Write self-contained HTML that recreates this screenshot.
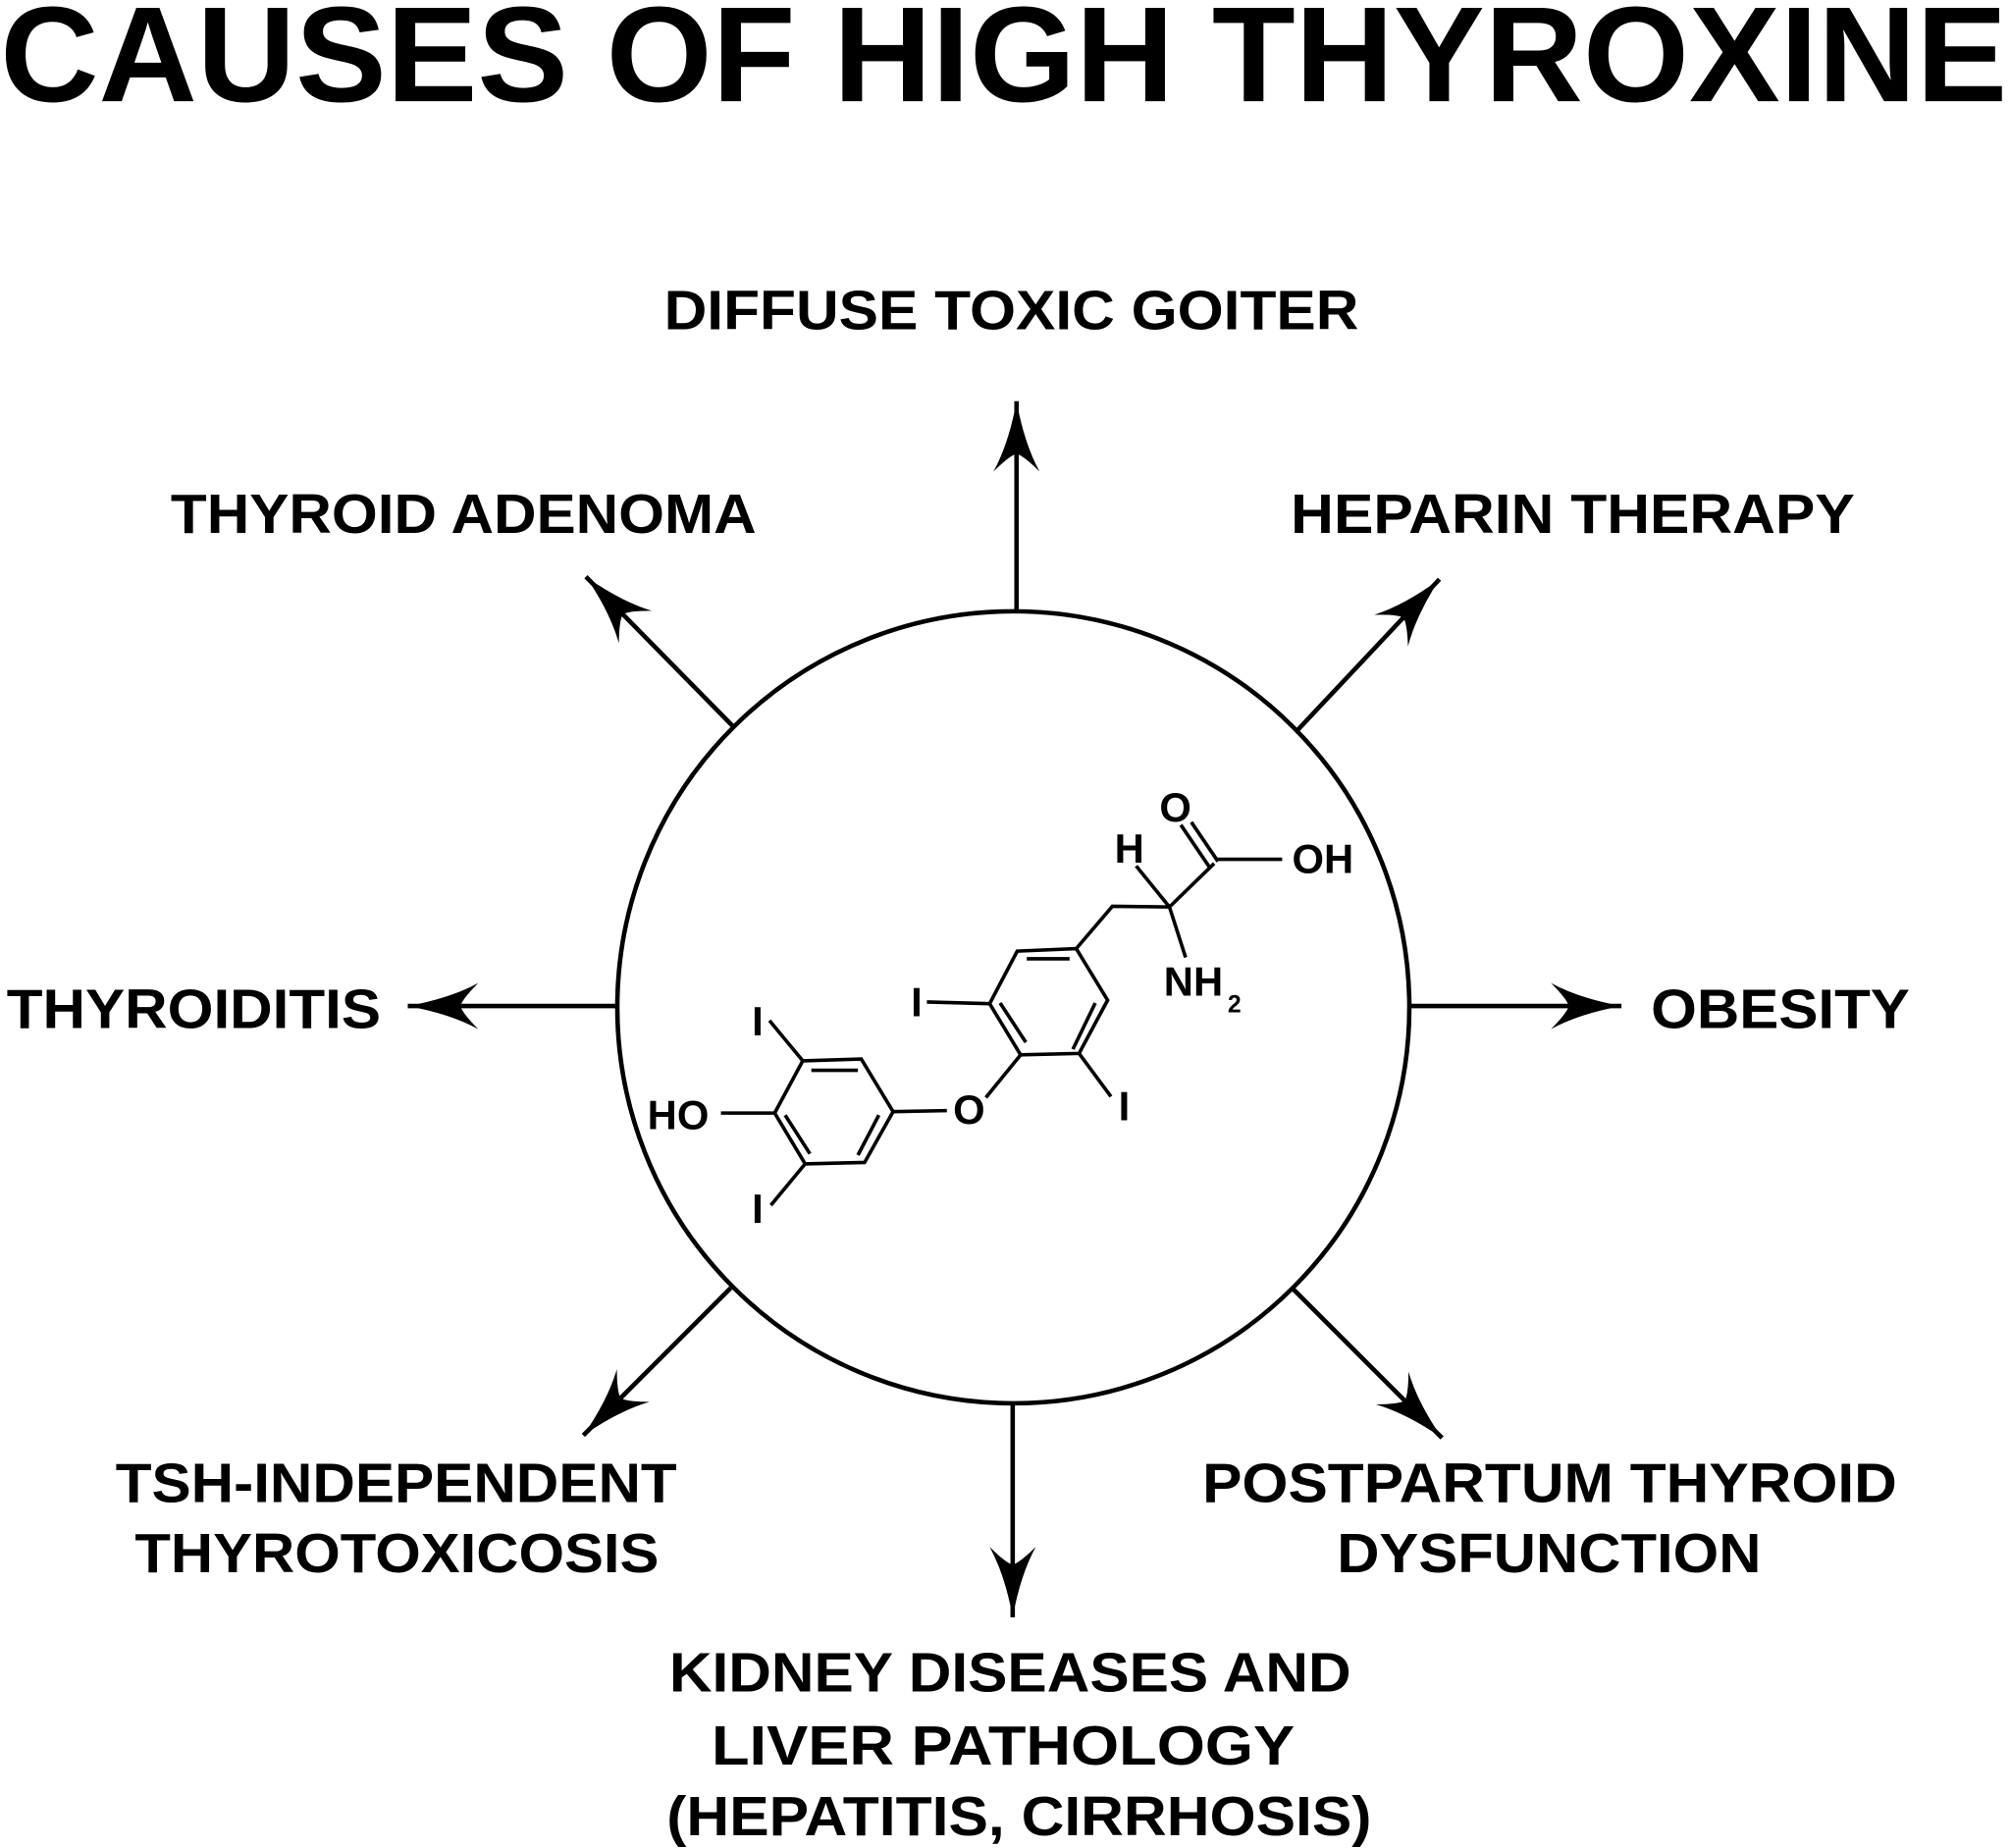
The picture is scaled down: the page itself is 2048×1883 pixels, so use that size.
<!DOCTYPE html>
<html><head><meta charset="utf-8"><style>
html,body{margin:0;padding:0;background:#fff;}
svg{display:block;}
text{font-family:"Liberation Sans",Arial,sans-serif;font-weight:bold;fill:#000;}
</style></head><body>
<svg width="2048" height="1883" viewBox="0 0 1568 1442" xmlns="http://www.w3.org/2000/svg">
<defs>
<marker id="ah" markerUnits="userSpaceOnUse" markerWidth="80" markerHeight="60" viewBox="-5 -30 80 60" refX="55" refY="0" orient="auto">
<path d="M55,0 Q22,-6 0,-18 Q12,-6 14,0 Q12,6 0,18 Q22,6 55,0 Z" fill="#000"/>
</marker>
</defs>
<text x="0" y="79" font-size="106" textLength="1566" lengthAdjust="spacingAndGlyphs">CAUSES OF HIGH THYROXINE</text>

<circle cx="790.5" cy="786" r="309" fill="none" stroke="#000" stroke-width="3.5"/>
<g stroke="#000" stroke-width="3.5" fill="none" marker-end="url(#ah)">
<line x1="793" y1="478" x2="793" y2="313"/>
<line x1="572" y1="567" x2="457" y2="450"/>
<line x1="1012" y1="570" x2="1123" y2="452"/>
<line x1="482" y1="785" x2="318" y2="785"/>
<line x1="1099" y1="785" x2="1265" y2="785"/>
<line x1="570" y1="1005" x2="455" y2="1120"/>
<line x1="790" y1="1095" x2="790" y2="1262"/>
<line x1="1008" y1="1005" x2="1125" y2="1122"/>
</g>

<g font-size="43">
<text x="518" y="257" textLength="542" lengthAdjust="spacingAndGlyphs">DIFFUSE TOXIC GOITER</text>
<text x="133" y="416" textLength="457" lengthAdjust="spacingAndGlyphs">THYROID ADENOMA</text>
<text x="1007" y="416" textLength="440" lengthAdjust="spacingAndGlyphs">HEPARIN THERAPY</text>
<text x="5" y="802" textLength="292" lengthAdjust="spacingAndGlyphs">THYROIDITIS</text>
<text x="1288" y="802" textLength="202" lengthAdjust="spacingAndGlyphs">OBESITY</text>
<text x="90" y="1172" textLength="438" lengthAdjust="spacingAndGlyphs">TSH-INDEPENDENT</text>
<text x="105" y="1227" textLength="409" lengthAdjust="spacingAndGlyphs">THYROTOXICOSIS</text>
<text x="938" y="1172" textLength="542" lengthAdjust="spacingAndGlyphs">POSTPARTUM THYROID</text>
<text x="1043" y="1227" textLength="331" lengthAdjust="spacingAndGlyphs">DYSFUNCTION</text>
<text x="522" y="1320" textLength="532" lengthAdjust="spacingAndGlyphs">KIDNEY DISEASES AND</text>
<text x="555" y="1377" textLength="455" lengthAdjust="spacingAndGlyphs">LIVER PATHOLOGY</text>
<text x="520" y="1432" textLength="550" lengthAdjust="spacingAndGlyphs">(HEPATITIS, CIRRHOSIS)</text>
</g>

<g transform="translate(490.0,597.2) scale(0.3711,0.2735)">
<g stroke="#000" stroke-width="3.6" fill="none" vector-effect="non-scaling-stroke">
<polygon vector-effect="non-scaling-stroke" points="818,530 942,523 1008,670 948,822 825,826 760,680"/>
<line vector-effect="non-scaling-stroke" x1="838" y1="552" x2="928" y2="552"/>
<line vector-effect="non-scaling-stroke" x1="982" y1="678" x2="935" y2="810"/>
<line vector-effect="non-scaling-stroke" x1="782" y1="678" x2="836" y2="790"/>
<polyline vector-effect="non-scaling-stroke" points="942,523 1018,402 1138,404"/>
<line vector-effect="non-scaling-stroke" x1="1138" y1="404" x2="1068" y2="287"/>
<line vector-effect="non-scaling-stroke" x1="1138" y1="404" x2="1232" y2="280"/>
<line vector-effect="non-scaling-stroke" x1="1224" y1="294" x2="1162" y2="170"/>
<line vector-effect="non-scaling-stroke" x1="1240" y1="274" x2="1184" y2="162"/>
<line vector-effect="non-scaling-stroke" x1="1236" y1="268" x2="1375" y2="268"/>
<line vector-effect="non-scaling-stroke" x1="1138" y1="404" x2="1172" y2="548"/>
<line vector-effect="non-scaling-stroke" x1="760" y1="680" x2="628" y2="675"/>
<line vector-effect="non-scaling-stroke" x1="948" y1="822" x2="1015" y2="945"/>
<line vector-effect="non-scaling-stroke" x1="825" y1="826" x2="752" y2="948"/>
<line vector-effect="non-scaling-stroke" x1="670" y1="985" x2="557" y2="988"/>
<polygon vector-effect="non-scaling-stroke" points="367,843 490,838 557,988 497,1133 372,1137 308,992"/>
<line vector-effect="non-scaling-stroke" x1="385" y1="870" x2="483" y2="870"/>
<line vector-effect="non-scaling-stroke" x1="527" y1="998" x2="483" y2="1112"/>
<line vector-effect="non-scaling-stroke" x1="330" y1="998" x2="382" y2="1108"/>
<line vector-effect="non-scaling-stroke" x1="308" y1="992" x2="195" y2="992"/>
<line vector-effect="non-scaling-stroke" x1="367" y1="843" x2="297" y2="728"/>
<line vector-effect="non-scaling-stroke" x1="372" y1="1137" x2="300" y2="1255"/>
</g>
</g>
<g font-size="32" text-anchor="middle">
<text x="917" y="641">O</text>
<text x="881" y="673">H</text>
<text x="1032" y="681">OH</text>
<text x="931" y="777">NH</text>
<text x="963" y="790" font-size="19">2</text>
<text x="715" y="793">I</text>
<text x="877" y="874">I</text>
<text x="756" y="877">O</text>
<text x="529" y="881">HO</text>
<text x="591" y="808">I</text>
<text x="591" y="954">I</text>
</g>
</svg>
</body></html>
